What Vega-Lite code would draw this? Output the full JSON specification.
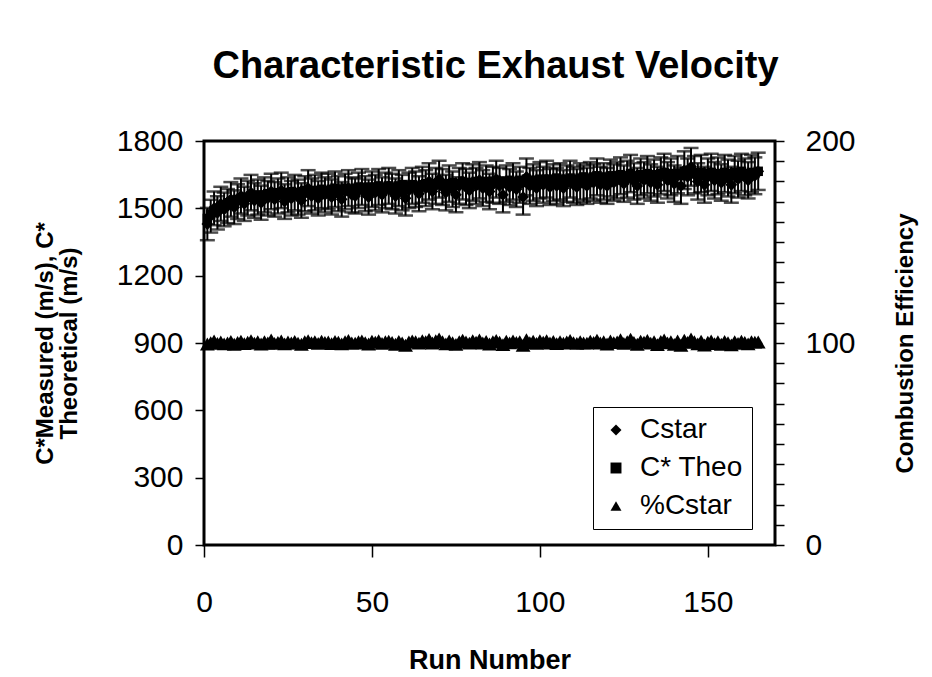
{
 "$schema": "https://vega.github.io/schema/vega-lite/v6.json",
 "width": 571,
 "height": 404,
 "autosize": {"type": "none"},
 "padding": {"left": 204, "top": 141, "right": 157, "bottom": 132},
 "background": "white",
 "title": {"text": "Characteristic Exhaust Velocity", "font": "Liberation Sans", "fontSize": 38, "fontWeight": "bold", "color": "black", "anchor": "middle", "offset": 40, "dx": 6},
 "data": {"values": [
{"run":1,"cstar":1430,"theo":1455,"pct":99.5,"err":72},
{"run":2,"cstar":1465,"theo":1475,"pct":100.2,"err":73},
{"run":3,"cstar":1500,"theo":1490,"pct":101.0,"err":75},
{"run":4,"cstar":1480,"theo":1500,"pct":99.8,"err":74},
{"run":5,"cstar":1520,"theo":1510,"pct":100.5,"err":76},
{"run":6,"cstar":1495,"theo":1515,"pct":99.6,"err":75},
{"run":7,"cstar":1510,"theo":1525,"pct":100.1,"err":76},
{"run":8,"cstar":1540,"theo":1530,"pct":100.8,"err":77},
{"run":9,"cstar":1505,"theo":1535,"pct":99.4,"err":75},
{"run":10,"cstar":1530,"theo":1540,"pct":100.3,"err":77},
{"run":11,"cstar":1555,"theo":1545,"pct":100.9,"err":78},
{"run":12,"cstar":1520,"theo":1540,"pct":99.7,"err":76},
{"run":13,"cstar":1545,"theo":1550,"pct":100.4,"err":77},
{"run":14,"cstar":1570,"theo":1555,"pct":101.2,"err":79},
{"run":15,"cstar":1535,"theo":1550,"pct":99.9,"err":77},
{"run":16,"cstar":1550,"theo":1560,"pct":100.6,"err":78},
{"run":17,"cstar":1525,"theo":1555,"pct":99.5,"err":76},
{"run":18,"cstar":1560,"theo":1560,"pct":100.7,"err":78},
{"run":19,"cstar":1545,"theo":1565,"pct":100.0,"err":77},
{"run":20,"cstar":1575,"theo":1560,"pct":101.5,"err":79},
{"run":21,"cstar":1540,"theo":1565,"pct":99.8,"err":77},
{"run":22,"cstar":1555,"theo":1570,"pct":100.3,"err":78},
{"run":23,"cstar":1580,"theo":1565,"pct":101.0,"err":79},
{"run":24,"cstar":1530,"theo":1560,"pct":99.6,"err":77},
{"run":25,"cstar":1560,"theo":1570,"pct":100.5,"err":78},
{"run":26,"cstar":1545,"theo":1575,"pct":100.1,"err":77},
{"run":27,"cstar":1570,"theo":1570,"pct":100.8,"err":79},
{"run":28,"cstar":1550,"theo":1565,"pct":99.9,"err":78},
{"run":29,"cstar":1535,"theo":1575,"pct":99.4,"err":77},
{"run":30,"cstar":1565,"theo":1580,"pct":100.6,"err":78},
{"run":31,"cstar":1590,"theo":1575,"pct":101.1,"err":80},
{"run":32,"cstar":1555,"theo":1570,"pct":100.2,"err":78},
{"run":33,"cstar":1570,"theo":1580,"pct":100.7,"err":79},
{"run":34,"cstar":1545,"theo":1575,"pct":99.8,"err":77},
{"run":35,"cstar":1580,"theo":1585,"pct":100.9,"err":79},
{"run":36,"cstar":1560,"theo":1580,"pct":100.3,"err":78},
{"run":37,"cstar":1575,"theo":1575,"pct":100.5,"err":79},
{"run":38,"cstar":1550,"theo":1585,"pct":99.7,"err":78},
{"run":39,"cstar":1585,"theo":1590,"pct":100.8,"err":79},
{"run":40,"cstar":1565,"theo":1580,"pct":100.4,"err":78},
{"run":41,"cstar":1540,"theo":1585,"pct":99.6,"err":77},
{"run":42,"cstar":1575,"theo":1590,"pct":100.6,"err":79},
{"run":43,"cstar":1590,"theo":1585,"pct":101.3,"err":80},
{"run":44,"cstar":1560,"theo":1580,"pct":100.0,"err":78},
{"run":45,"cstar":1555,"theo":1590,"pct":99.9,"err":78},
{"run":46,"cstar":1580,"theo":1595,"pct":100.7,"err":79},
{"run":47,"cstar":1595,"theo":1590,"pct":101.0,"err":80},
{"run":48,"cstar":1565,"theo":1585,"pct":100.2,"err":78},
{"run":49,"cstar":1550,"theo":1595,"pct":99.5,"err":78},
{"run":50,"cstar":1585,"theo":1590,"pct":100.9,"err":79},
{"run":51,"cstar":1570,"theo":1595,"pct":100.4,"err":79},
{"run":52,"cstar":1595,"theo":1600,"pct":101.1,"err":80},
{"run":53,"cstar":1560,"theo":1590,"pct":99.8,"err":78},
{"run":54,"cstar":1580,"theo":1595,"pct":100.6,"err":79},
{"run":55,"cstar":1600,"theo":1600,"pct":100.9,"err":80},
{"run":56,"cstar":1575,"theo":1595,"pct":100.3,"err":79},
{"run":57,"cstar":1555,"theo":1590,"pct":99.4,"err":78},
{"run":58,"cstar":1590,"theo":1600,"pct":100.8,"err":80},
{"run":59,"cstar":1570,"theo":1605,"pct":100.1,"err":79},
{"run":60,"cstar":1545,"theo":1595,"pct":98.9,"err":77},
{"run":61,"cstar":1580,"theo":1600,"pct":100.5,"err":79},
{"run":62,"cstar":1600,"theo":1605,"pct":101.0,"err":80},
{"run":63,"cstar":1585,"theo":1600,"pct":100.6,"err":79},
{"run":64,"cstar":1565,"theo":1595,"pct":99.9,"err":78},
{"run":65,"cstar":1605,"theo":1605,"pct":101.2,"err":80},
{"run":66,"cstar":1590,"theo":1610,"pct":100.7,"err":80},
{"run":67,"cstar":1620,"theo":1605,"pct":101.8,"err":81},
{"run":68,"cstar":1575,"theo":1600,"pct":100.0,"err":79},
{"run":69,"cstar":1600,"theo":1610,"pct":101.1,"err":80},
{"run":70,"cstar":1630,"theo":1615,"pct":102.0,"err":82},
{"run":71,"cstar":1595,"theo":1610,"pct":100.6,"err":80},
{"run":72,"cstar":1570,"theo":1600,"pct":99.6,"err":79},
{"run":73,"cstar":1610,"theo":1610,"pct":101.0,"err":81},
{"run":74,"cstar":1585,"theo":1615,"pct":100.2,"err":79},
{"run":75,"cstar":1560,"theo":1605,"pct":99.3,"err":78},
{"run":76,"cstar":1600,"theo":1610,"pct":100.7,"err":80},
{"run":77,"cstar":1620,"theo":1620,"pct":101.4,"err":81},
{"run":78,"cstar":1595,"theo":1615,"pct":100.5,"err":80},
{"run":79,"cstar":1580,"theo":1610,"pct":99.9,"err":79},
{"run":80,"cstar":1615,"theo":1615,"pct":101.2,"err":81},
{"run":81,"cstar":1600,"theo":1620,"pct":100.4,"err":80},
{"run":82,"cstar":1625,"theo":1615,"pct":101.5,"err":81},
{"run":83,"cstar":1590,"theo":1610,"pct":100.0,"err":80},
{"run":84,"cstar":1610,"theo":1620,"pct":100.8,"err":81},
{"run":85,"cstar":1575,"theo":1615,"pct":99.5,"err":79},
{"run":86,"cstar":1605,"theo":1620,"pct":100.6,"err":80},
{"run":87,"cstar":1630,"theo":1625,"pct":101.3,"err":82},
{"run":88,"cstar":1600,"theo":1620,"pct":100.4,"err":80},
{"run":89,"cstar":1560,"theo":1610,"pct":99.2,"err":78},
{"run":90,"cstar":1610,"theo":1620,"pct":100.9,"err":81},
{"run":91,"cstar":1595,"theo":1625,"pct":100.1,"err":80},
{"run":92,"cstar":1620,"theo":1620,"pct":101.0,"err":81},
{"run":93,"cstar":1585,"theo":1615,"pct":100.3,"err":79},
{"run":94,"cstar":1605,"theo":1625,"pct":100.7,"err":80},
{"run":95,"cstar":1550,"theo":1615,"pct":98.8,"err":78},
{"run":96,"cstar":1640,"theo":1630,"pct":101.6,"err":82},
{"run":97,"cstar":1600,"theo":1625,"pct":100.2,"err":80},
{"run":98,"cstar":1615,"theo":1620,"pct":100.9,"err":81},
{"run":99,"cstar":1590,"theo":1625,"pct":99.8,"err":80},
{"run":100,"cstar":1625,"theo":1630,"pct":101.1,"err":81},
{"run":101,"cstar":1605,"theo":1625,"pct":100.4,"err":80},
{"run":102,"cstar":1630,"theo":1630,"pct":101.2,"err":82},
{"run":103,"cstar":1595,"theo":1625,"pct":100.0,"err":80},
{"run":104,"cstar":1615,"theo":1630,"pct":100.8,"err":81},
{"run":105,"cstar":1600,"theo":1635,"pct":99.7,"err":80},
{"run":106,"cstar":1620,"theo":1630,"pct":100.6,"err":81},
{"run":107,"cstar":1590,"theo":1625,"pct":99.9,"err":80},
{"run":108,"cstar":1610,"theo":1630,"pct":100.5,"err":81},
{"run":109,"cstar":1630,"theo":1635,"pct":101.3,"err":82},
{"run":110,"cstar":1605,"theo":1630,"pct":100.2,"err":80},
{"run":111,"cstar":1595,"theo":1625,"pct":99.8,"err":80},
{"run":112,"cstar":1620,"theo":1635,"pct":100.7,"err":81},
{"run":113,"cstar":1610,"theo":1640,"pct":100.1,"err":81},
{"run":114,"cstar":1600,"theo":1630,"pct":99.9,"err":80},
{"run":115,"cstar":1625,"theo":1635,"pct":100.9,"err":81},
{"run":116,"cstar":1615,"theo":1640,"pct":100.3,"err":81},
{"run":117,"cstar":1640,"theo":1645,"pct":101.4,"err":82},
{"run":118,"cstar":1605,"theo":1635,"pct":100.0,"err":80},
{"run":119,"cstar":1620,"theo":1640,"pct":100.6,"err":81},
{"run":120,"cstar":1600,"theo":1635,"pct":99.5,"err":80},
{"run":121,"cstar":1635,"theo":1645,"pct":101.0,"err":82},
{"run":122,"cstar":1615,"theo":1640,"pct":100.2,"err":81},
{"run":123,"cstar":1625,"theo":1645,"pct":100.5,"err":81},
{"run":124,"cstar":1645,"theo":1650,"pct":101.6,"err":82},
{"run":125,"cstar":1610,"theo":1640,"pct":99.8,"err":81},
{"run":126,"cstar":1630,"theo":1645,"pct":100.6,"err":82},
{"run":127,"cstar":1655,"theo":1655,"pct":101.9,"err":83},
{"run":128,"cstar":1620,"theo":1645,"pct":100.3,"err":81},
{"run":129,"cstar":1600,"theo":1640,"pct":99.4,"err":80},
{"run":130,"cstar":1640,"theo":1650,"pct":100.9,"err":82},
{"run":131,"cstar":1625,"theo":1645,"pct":100.4,"err":81},
{"run":132,"cstar":1650,"theo":1655,"pct":101.3,"err":83},
{"run":133,"cstar":1615,"theo":1645,"pct":99.9,"err":81},
{"run":134,"cstar":1635,"theo":1650,"pct":100.7,"err":82},
{"run":135,"cstar":1605,"theo":1640,"pct":99.2,"err":80},
{"run":136,"cstar":1645,"theo":1655,"pct":100.8,"err":82},
{"run":137,"cstar":1660,"theo":1660,"pct":101.5,"err":83},
{"run":138,"cstar":1625,"theo":1650,"pct":100.1,"err":81},
{"run":139,"cstar":1640,"theo":1655,"pct":100.6,"err":82},
{"run":140,"cstar":1610,"theo":1645,"pct":99.3,"err":81},
{"run":141,"cstar":1650,"theo":1655,"pct":101.0,"err":83},
{"run":142,"cstar":1600,"theo":1645,"pct":98.9,"err":80},
{"run":143,"cstar":1670,"theo":1665,"pct":101.4,"err":84},
{"run":144,"cstar":1640,"theo":1655,"pct":100.3,"err":82},
{"run":145,"cstar":1685,"theo":1670,"pct":102.0,"err":84},
{"run":146,"cstar":1650,"theo":1660,"pct":100.6,"err":83},
{"run":147,"cstar":1620,"theo":1650,"pct":99.6,"err":81},
{"run":148,"cstar":1655,"theo":1660,"pct":100.9,"err":83},
{"run":149,"cstar":1605,"theo":1645,"pct":99.0,"err":80},
{"run":150,"cstar":1640,"theo":1655,"pct":100.4,"err":82},
{"run":151,"cstar":1660,"theo":1660,"pct":101.0,"err":83},
{"run":152,"cstar":1625,"theo":1650,"pct":99.7,"err":81},
{"run":153,"cstar":1645,"theo":1655,"pct":100.6,"err":82},
{"run":154,"cstar":1615,"theo":1645,"pct":99.4,"err":81},
{"run":155,"cstar":1655,"theo":1660,"pct":100.8,"err":83},
{"run":156,"cstar":1635,"theo":1655,"pct":100.2,"err":82},
{"run":157,"cstar":1605,"theo":1645,"pct":99.1,"err":80},
{"run":158,"cstar":1650,"theo":1660,"pct":100.7,"err":83},
{"run":159,"cstar":1630,"theo":1650,"pct":99.8,"err":82},
{"run":160,"cstar":1660,"theo":1665,"pct":100.9,"err":83},
{"run":161,"cstar":1640,"theo":1655,"pct":100.3,"err":82},
{"run":162,"cstar":1625,"theo":1650,"pct":99.6,"err":81},
{"run":163,"cstar":1655,"theo":1660,"pct":100.7,"err":83},
{"run":164,"cstar":1645,"theo":1655,"pct":100.4,"err":82},
{"run":165,"cstar":1665,"theo":1665,"pct":100.5,"err":83}
 ]},
 "layer": [
  {"layer": [
   {"mark": {"type": "errorbar", "ticks": {"size": 15, "color": "black", "thickness": 2.5}, "rule": {"color": "black"}, "thickness": 2, "color": "black"},
    "encoding": {
     "x": {"field": "run", "type": "quantitative", "title": "Run Number", "scale": {"domain": [0, 170], "nice": false, "zero": false},
           "axis": {"values": [0, 50, 100, 150], "tickSize": 12, "labelPadding": 30, "labelFontSize": 30, "labelFlush": false, "labelOverlap": false, "titleFontSize": 27, "titleY": 115, "titleBaseline": "middle"}},
     "y": {"field": "cstar", "type": "quantitative", "title": ["C*Measured (m/s), C*", "Theoretical (m/s)"], "scale": {"domain": [0, 1800], "nice": false},
           "axis": {"values": [0, 300, 600, 900, 1200, 1500, 1800], "format": "d", "tickSize": 9, "labelPadding": 12, "titleFontSize": 24, "titleX": -159, "titleY": 202, "titleAngle": 270, "titleBaseline": "middle", "titleAlign": "center", "titleLineHeight": 24, "labelOverlap": false}},
     "yError": {"field": "err"}
    }},
   {"mark": {"type": "point", "filled": true, "color": "black", "size": 90, "opacity": 1},
    "encoding": {
     "x": {"field": "run", "type": "quantitative", "title": "Run Number"},
     "y": {"field": "theo", "type": "quantitative", "title": ["C*Measured (m/s), C*", "Theoretical (m/s)"]},
     "shape": {"datum": "C* Theo", "type": "nominal", "scale": {"domain": ["Cstar", "C* Theo", "%Cstar"], "range": ["diamond", "square", "triangle-up"]}, "title": null,
               "legend": {"encode": {"symbols": {"update": {"size": {"value": 120}, "fill": {"value": "black"}, "stroke": {"value": "black"}, "strokeWidth": {"value": 0}}}}}}
    }},
   {"mark": {"type": "point", "filled": true, "color": "black", "size": 140, "opacity": 1},
    "encoding": {
     "x": {"field": "run", "type": "quantitative", "title": "Run Number"},
     "y": {"field": "cstar", "type": "quantitative", "title": ["C*Measured (m/s), C*", "Theoretical (m/s)"]},
     "shape": {"datum": "Cstar", "type": "nominal", "scale": {"domain": ["Cstar", "C* Theo", "%Cstar"], "range": ["diamond", "square", "triangle-up"]}, "title": null}
    }}
  ]},
  {"mark": {"type": "point", "filled": true, "color": "black", "size": 220, "opacity": 1},
   "encoding": {
    "x": {"field": "run", "type": "quantitative", "title": "Run Number"},
    "y": {"field": "pct", "type": "quantitative", "title": "Combustion Efficiency", "scale": {"domain": [0, 200], "nice": false},
          "axis": {"orient": "right", "values": [0,10,20,30,40,50,60,70,80,90,100,110,120,130,140,150,160,170,180,190,200], "labelExpr": "datum.value % 100 === 0 ? datum.label : ''", "labelOverlap": false, "tickSize": 9, "labelPadding": 21, "titleFontSize": 24, "titleX": 130, "titleY": 202, "titleAngle": 270, "titleBaseline": "middle", "titleAlign": "center"}},
    "shape": {"datum": "%Cstar", "type": "nominal", "scale": {"domain": ["Cstar", "C* Theo", "%Cstar"], "range": ["diamond", "square", "triangle-up"]}, "title": null}
   }}
 ],
 "resolve": {"scale": {"y": "independent"}},
 "config": {
  "view": {"stroke": "black", "strokeWidth": 3},
  "axis": {"domain": false, "grid": false, "ticks": true, "tickColor": "black", "tickWidth": 1.5, "labelFont": "Liberation Sans", "labelFontSize": 30, "labelColor": "black", "titleFont": "Liberation Sans", "titleFontWeight": "bold", "titleColor": "black"},
  "legend": {"title": null, "orient": "none", "legendX": 389, "legendY": 266, "strokeColor": "black", "fillColor": "white", "padding": 9, "labelFont": "Liberation Sans", "labelFontSize": 28, "labelColor": "black", "symbolSize": 120, "symbolFillColor": "black", "symbolStrokeColor": "black", "symbolStrokeWidth": 0, "rowPadding": 10, "labelOffset": 10, "cornerRadius": 0}
 }
}
